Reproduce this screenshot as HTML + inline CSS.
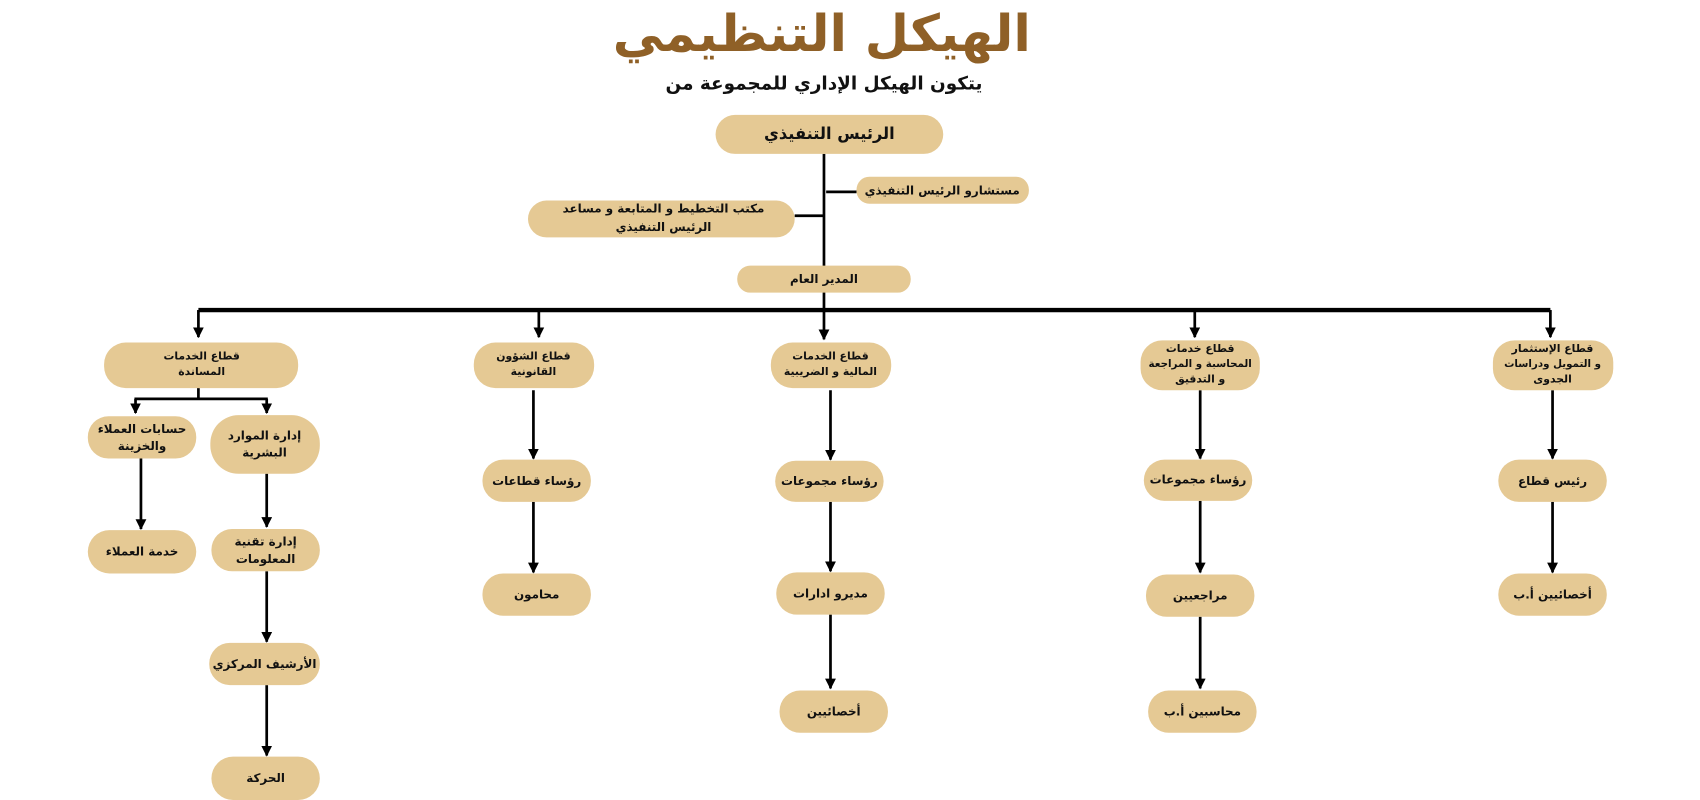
<!DOCTYPE html>
<html><head><meta charset="utf-8"><style>
html,body{margin:0;padding:0;background:#fff;width:1700px;height:800px;overflow:hidden}
svg{display:block}
text{font-family:"DejaVu Sans","Liberation Sans",sans-serif;font-weight:bold;fill:#111;text-anchor:middle;dominant-baseline:middle}
.b{fill:#E5C994}
.l{stroke:#000;stroke-width:2.5;fill:none}
</style></head><body>
<svg width="1700" height="800" viewBox="0 0 1568 738" preserveAspectRatio="none" xmlns="http://www.w3.org/2000/svg">
<defs><marker id="a" markerWidth="10" markerHeight="10" refX="9" refY="5" orient="auto" markerUnits="userSpaceOnUse" viewBox="0 0 10 10"><path d="M0,0 L10,5 L0,10 z" fill="#000"/></marker></defs>
<text x="758" y="34" style="font-size:47px;fill:#8F6027" direction="rtl">الهيكل التنظيمي</text>
<text x="760" y="78" style="font-size:17px" direction="rtl">يتكون الهيكل الإداري للمجموعة من</text>

<line class="l" x1="760" y1="142" x2="760" y2="286"/>
<line class="l" x1="762" y1="177" x2="790" y2="177"/>
<line class="l" x1="733" y1="199" x2="760" y2="199"/>
<line x1="183" y1="286" x2="1430" y2="286" stroke="#000" stroke-width="4"/>
<g class="l" marker-end="url(#a)">
<line x1="183" y1="286" x2="183" y2="311"/>
<line x1="497" y1="286" x2="497" y2="311"/>
<line x1="760" y1="286" x2="760" y2="313"/>
<line x1="1102" y1="286" x2="1102" y2="311"/>
<line x1="1430" y1="286" x2="1430" y2="311"/>
<line x1="125" y1="368" x2="125" y2="381"/>
<line x1="246" y1="368" x2="246" y2="381"/>
<line x1="130" y1="423" x2="130" y2="488"/>
<line x1="246" y1="437" x2="246" y2="486"/>
<line x1="246" y1="527" x2="246" y2="592"/>
<line x1="246" y1="632" x2="246" y2="697"/>
<line x1="492" y1="360" x2="492" y2="423"/>
<line x1="492" y1="463" x2="492" y2="528"/>
<line x1="766" y1="360" x2="766" y2="424"/>
<line x1="766" y1="463" x2="766" y2="527"/>
<line x1="766" y1="567" x2="766" y2="635"/>
<line x1="1107" y1="360" x2="1107" y2="423"/>
<line x1="1107" y1="462" x2="1107" y2="528"/>
<line x1="1107" y1="569" x2="1107" y2="635"/>
<line x1="1432" y1="360" x2="1432" y2="423"/>
<line x1="1432" y1="463" x2="1432" y2="528"/>
</g>
<line class="l" x1="183" y1="358" x2="183" y2="368"/>
<line class="l" x1="124" y1="368" x2="247" y2="368"/>

<rect class="b" x="660" y="106" width="210" height="36" rx="18"/><text x="765" y="124" style="font-size:15px">الرئيس التنفيذي</text>
<rect class="b" x="790" y="163" width="159" height="25" rx="12"/><text x="869" y="176" style="font-size:11px">مستشارو الرئيس التنفيذي</text>
<rect class="b" x="487" y="185" width="246" height="34" rx="17"/><text x="612" y="193" style="font-size:11px">مكتب التخطيط و المتابعة و مساعد</text><text x="612" y="210" style="font-size:11px">الرئيس التنفيذي</text>
<rect class="b" x="680" y="245" width="160" height="25" rx="12"/><text x="760" y="258" style="font-size:11px">المدير العام</text>

<g style="font-size:10px">
<rect class="b" x="96" y="316" width="179" height="42" rx="20"/><text x="186" y="329">قطاع الخدمات</text><text x="186" y="343">المساندة</text>
<rect class="b" x="437" y="316" width="111" height="42" rx="20"/><text x="492" y="329">قطاع الشؤون</text><text x="492" y="343">القانونية</text>
<rect class="b" x="711" y="316" width="111" height="42" rx="20"/><text x="766" y="329">قطاع الخدمات</text><text x="766" y="343">المالية و الضريبية</text>
<rect class="b" x="1052" y="314" width="110" height="46" rx="20"/><text x="1107" y="322">قطاع خدمات</text><text x="1107" y="336" style="font-size:9.5px">المحاسبة و المراجعة</text><text x="1107" y="350">و التدقيق</text>
<rect class="b" x="1377" y="314" width="111" height="46" rx="20"/><text x="1432" y="322">قطاع الإستثمار</text><text x="1432" y="336" style="font-size:9.5px">و التمويل ودراسات</text><text x="1432" y="350">الجدوى</text>
</g>

<g style="font-size:11px">
<rect class="b" x="81" y="384" width="100" height="39" rx="19"/><text x="131" y="396">حسابات العملاء</text><text x="131" y="412">والخزينة</text>
<rect class="b" x="194" y="383" width="101" height="54" rx="26"/><text x="244" y="402">إدارة الموارد</text><text x="244" y="418">البشرية</text>
<rect class="b" x="81" y="489" width="100" height="40" rx="20"/><text x="131" y="509">خدمة العملاء</text>
<rect class="b" x="195" y="488" width="100" height="39" rx="19"/><text x="245" y="500">إدارة تقنية</text><text x="245" y="516">المعلومات</text>
<rect class="b" x="193" y="593" width="102" height="39" rx="19"/><text x="244" y="613">الأرشيف المركزي</text>
<rect class="b" x="195" y="698" width="100" height="40" rx="20"/><text x="245" y="718">الحركة</text>

<rect class="b" x="445" y="424" width="100" height="39" rx="19"/><text x="495" y="444">رؤساء قطاعات</text>
<rect class="b" x="445" y="529" width="100" height="39" rx="19"/><text x="495" y="549">محامون</text>

<rect class="b" x="715" y="425" width="100" height="38" rx="19"/><text x="765" y="444">رؤساء مجموعات</text>
<rect class="b" x="716" y="528" width="100" height="39" rx="19"/><text x="766" y="548">مديرو ادارات</text>
<rect class="b" x="719" y="637" width="100" height="39" rx="19"/><text x="769" y="657">أخصائيين</text>

<rect class="b" x="1055" y="424" width="100" height="38" rx="19"/><text x="1105" y="443">رؤساء مجموعات</text>
<rect class="b" x="1057" y="530" width="100" height="39" rx="19"/><text x="1107" y="550">مراجعيين</text>
<rect class="b" x="1059" y="637" width="100" height="39" rx="19"/><text x="1109" y="657">محاسبين أ.ب</text>

<rect class="b" x="1382" y="424" width="100" height="39" rx="19"/><text x="1432" y="444">رئيس قطاع</text>
<rect class="b" x="1382" y="529" width="100" height="39" rx="19"/><text x="1432" y="549">أخصائيين أ.ب</text>
</g>
</svg>
</body></html>
